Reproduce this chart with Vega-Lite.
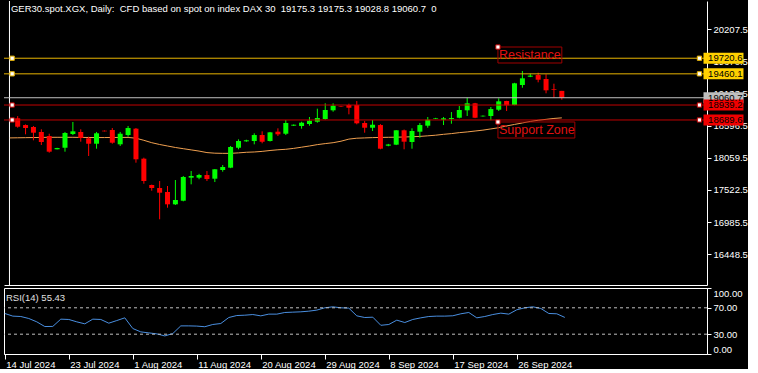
{
  "$schema": "https://vega.github.io/schema/vega-lite/v6.json",
  "background": "#000000",
  "padding": {"left": 2, "top": 0, "right": 0, "bottom": 0},
  "spacing": 1,
  "config": {
    "view": {"stroke": null},
    "axis": {"grid": false, "labelColor": "#FFFFFF", "domainColor": "#FFFFFF", "tickColor": "#FFFFFF", "labelFont": "Liberation Sans", "labelFontSize": 9.5, "title": null, "domainWidth": 1, "tickWidth": 1, "labelOverlap": false},
    "text": {"font": "Liberation Sans"}
  },
  "datasets": {
    "bars": [
      {"n":0,"date":"2024-07-14","ma":18390,"rsi":61.4},
      {"n":1,"date":"2024-07-15","open":18717,"high":18754,"low":18560,"close":18577,"ma":18392,"rsi":57.4},
      {"n":2,"date":"2024-07-16","open":18605,"high":18615,"low":18450,"close":18555,"ma":18394,"rsi":56.8},
      {"n":3,"date":"2024-07-17","open":18572,"high":18589,"low":18350,"close":18477,"ma":18396,"rsi":53.8},
      {"n":4,"date":"2024-07-18","open":18489,"high":18534,"low":18272,"close":18322,"ma":18398,"rsi":48.7},
      {"n":5,"date":"2024-07-19","open":18422,"high":18460,"low":18143,"close":18160,"ma":18400,"rsi":41.6},
      {"n":6,"date":"2024-07-21","open":18200,"high":18225,"low":18198,"close":18221,"ma":18400,"rsi":41.8},
      {"n":7,"date":"2024-07-22","open":18226,"high":18489,"low":18160,"close":18472,"ma":18400,"rsi":52.8},
      {"n":8,"date":"2024-07-23","open":18455,"high":18656,"low":18438,"close":18500,"ma":18400,"rsi":52.3},
      {"n":9,"date":"2024-07-24","open":18489,"high":18534,"low":18327,"close":18388,"ma":18398,"rsi":48.7},
      {"n":10,"date":"2024-07-25","open":18383,"high":18410,"low":18088,"close":18293,"ma":18397,"rsi":45.7},
      {"n":11,"date":"2024-07-26","open":18293,"high":18489,"low":18210,"close":18467,"ma":18396,"rsi":52.8},
      {"n":12,"date":"2024-07-28","open":18510,"high":18515,"low":18498,"close":18500,"ma":18396,"rsi":52.3},
      {"n":13,"date":"2024-07-29","open":18522,"high":18555,"low":18293,"close":18310,"ma":18397,"rsi":46.7},
      {"n":14,"date":"2024-07-30","open":18283,"high":18489,"low":18255,"close":18460,"ma":18398,"rsi":50.7},
      {"n":15,"date":"2024-07-31","open":18438,"high":18589,"low":18410,"close":18555,"ma":18398,"rsi":54.8},
      {"n":16,"date":"2024-08-01","open":18544,"high":18555,"low":17976,"close":18033,"ma":18385,"rsi":38.6},
      {"n":17,"date":"2024-08-02","open":18043,"high":18060,"low":17625,"close":17670,"ma":18350,"rsi":33.5},
      {"n":18,"date":"2024-08-04","open":17604,"high":17610,"low":17508,"close":17553,"ma":18310,"rsi":32.0},
      {"n":19,"date":"2024-08-05","open":17553,"high":17670,"low":17031,"close":17475,"ma":18280,"rsi":30.5},
      {"n":20,"date":"2024-08-06","open":17487,"high":17587,"low":17224,"close":17281,"ma":18255,"rsi":27.4},
      {"n":21,"date":"2024-08-07","open":17281,"high":17687,"low":17270,"close":17353,"ma":18230,"rsi":31.0},
      {"n":22,"date":"2024-08-08","open":17341,"high":17754,"low":17331,"close":17737,"ma":18210,"rsi":42.6},
      {"n":23,"date":"2024-08-09","open":17726,"high":17837,"low":17615,"close":17754,"ma":18190,"rsi":42.6},
      {"n":24,"date":"2024-08-11","open":17726,"high":17790,"low":17700,"close":17770,"ma":18170,"rsi":42.3},
      {"n":25,"date":"2024-08-12","open":17770,"high":17837,"low":17670,"close":17703,"ma":18145,"rsi":41.3},
      {"n":26,"date":"2024-08-13","open":17709,"high":17870,"low":17653,"close":17866,"ma":18135,"rsi":44.7},
      {"n":27,"date":"2024-08-14","open":17854,"high":17937,"low":17826,"close":17904,"ma":18132,"rsi":46.2},
      {"n":28,"date":"2024-08-15","open":17893,"high":18255,"low":17885,"close":18238,"ma":18132,"rsi":55.3},
      {"n":29,"date":"2024-08-16","open":18226,"high":18366,"low":18200,"close":18338,"ma":18140,"rsi":58.3},
      {"n":30,"date":"2024-08-18","open":18333,"high":18360,"low":18325,"close":18350,"ma":18150,"rsi":58.8},
      {"n":31,"date":"2024-08-19","open":18338,"high":18467,"low":18283,"close":18438,"ma":18155,"rsi":59.8},
      {"n":32,"date":"2024-08-20","open":18438,"high":18500,"low":18300,"close":18326,"ma":18165,"rsi":57.8},
      {"n":33,"date":"2024-08-21","open":18338,"high":18490,"low":18330,"close":18483,"ma":18180,"rsi":60.4},
      {"n":34,"date":"2024-08-22","open":18494,"high":18550,"low":18422,"close":18450,"ma":18192,"rsi":60.4},
      {"n":35,"date":"2024-08-23","open":18460,"high":18689,"low":18438,"close":18639,"ma":18200,"rsi":62.9},
      {"n":36,"date":"2024-08-25","open":18595,"high":18615,"low":18589,"close":18610,"ma":18215,"rsi":63.4},
      {"n":37,"date":"2024-08-26","open":18589,"high":18660,"low":18544,"close":18644,"ma":18235,"rsi":63.9},
      {"n":38,"date":"2024-08-27","open":18622,"high":18739,"low":18594,"close":18677,"ma":18255,"rsi":64.9},
      {"n":39,"date":"2024-08-28","open":18660,"high":18878,"low":18644,"close":18722,"ma":18278,"rsi":66.5},
      {"n":40,"date":"2024-08-29","open":18706,"high":18968,"low":18694,"close":18856,"ma":18295,"rsi":70.0},
      {"n":41,"date":"2024-08-30","open":18851,"high":18968,"low":18828,"close":18928,"ma":18310,"rsi":71.5},
      {"n":42,"date":"2024-09-01","open":18920,"high":18925,"low":18908,"close":18912,"ma":18335,"rsi":70.0},
      {"n":43,"date":"2024-09-02","open":18940,"high":18961,"low":18784,"close":18894,"ma":18370,"rsi":69.5},
      {"n":44,"date":"2024-09-03","open":18940,"high":19006,"low":18617,"close":18634,"ma":18385,"rsi":57.8},
      {"n":45,"date":"2024-09-04","open":18639,"high":18672,"low":18477,"close":18560,"ma":18390,"rsi":55.3},
      {"n":46,"date":"2024-09-05","open":18560,"high":18689,"low":18505,"close":18610,"ma":18395,"rsi":55.8},
      {"n":47,"date":"2024-09-06","open":18605,"high":18620,"low":18200,"close":18210,"ma":18398,"rsi":43.5},
      {"n":48,"date":"2024-09-08","open":18260,"high":18290,"low":18250,"close":18280,"ma":18400,"rsi":44.7},
      {"n":49,"date":"2024-09-09","open":18277,"high":18520,"low":18270,"close":18517,"ma":18402,"rsi":51.3},
      {"n":50,"date":"2024-09-10","open":18517,"high":18530,"low":18200,"close":18327,"ma":18405,"rsi":47.7},
      {"n":51,"date":"2024-09-11","open":18322,"high":18550,"low":18210,"close":18505,"ma":18410,"rsi":52.3},
      {"n":52,"date":"2024-09-12","open":18494,"high":18639,"low":18393,"close":18605,"ma":18415,"rsi":54.8},
      {"n":53,"date":"2024-09-13","open":18594,"high":18739,"low":18560,"close":18694,"ma":18425,"rsi":56.8},
      {"n":54,"date":"2024-09-15","open":18710,"high":18725,"low":18705,"close":18720,"ma":18435,"rsi":57.4},
      {"n":55,"date":"2024-09-16","open":18694,"high":18739,"low":18605,"close":18717,"ma":18450,"rsi":57.4},
      {"n":56,"date":"2024-09-17","open":18705,"high":18822,"low":18627,"close":18722,"ma":18462,"rsi":57.9},
      {"n":57,"date":"2024-09-18","open":18727,"high":18923,"low":18717,"close":18856,"ma":18478,"rsi":60.9},
      {"n":58,"date":"2024-09-19","open":18851,"high":19061,"low":18756,"close":18968,"ma":18490,"rsi":62.9},
      {"n":59,"date":"2024-09-20","open":18968,"high":18975,"low":18720,"close":18727,"ma":18505,"rsi":54.8},
      {"n":60,"date":"2024-09-22","open":18750,"high":18765,"low":18745,"close":18760,"ma":18520,"rsi":56.8},
      {"n":61,"date":"2024-09-23","open":18756,"high":18906,"low":18684,"close":18872,"ma":18540,"rsi":59.8},
      {"n":62,"date":"2024-09-24","open":18861,"high":19051,"low":18839,"close":19001,"ma":18560,"rsi":61.9},
      {"n":63,"date":"2024-09-25","open":19006,"high":19010,"low":18839,"close":18934,"ma":18590,"rsi":60.4},
      {"n":64,"date":"2024-09-26","open":18940,"high":19310,"low":18935,"close":19302,"ma":18615,"rsi":67.0},
      {"n":65,"date":"2024-09-27","open":19274,"high":19507,"low":19228,"close":19385,"ma":18640,"rsi":70.0},
      {"n":66,"date":"2024-09-29","open":19412,"high":19462,"low":19405,"close":19430,"ma":18665,"rsi":71.5},
      {"n":67,"date":"2024-09-30","open":19440,"high":19479,"low":19318,"close":19362,"ma":18685,"rsi":69.0},
      {"n":68,"date":"2024-10-01","open":19374,"high":19452,"low":19135,"close":19185,"ma":18700,"rsi":61.4},
      {"n":69,"date":"2024-10-02","open":19202,"high":19295,"low":19061,"close":19190,"ma":18715,"rsi":60.9},
      {"n":70,"date":"2024-10-03","open":19175.3,"high":19175.3,"low":19028.8,"close":19060.7,"ma":18725,"rsi":55.43}
    ],
    "levels": [
      {"price":19720.6,"kind":"resistance"},
      {"price":19460.1,"kind":"resistance"},
      {"price":19060.7,"kind":"last"},
      {"price":18939.2,"kind":"support"},
      {"price":18689.6,"kind":"support"}
    ],
    "notes": [
      {"label":"Resistance","n0":61.9,"n1":70.0,"p0":19908,"p1":19641},
      {"label":"Support Zone","n0":61.9,"n1":71.65,"p0":18656,"p1":18388}
    ]
  },
  "vconcat": [
    {
      "width": 703,
      "height": 284,
      "layer": [
        {
          "data": {"values": [{"edge":"left"}]},
          "mark": {"type": "rule", "color": "#FFFFFF", "strokeWidth": 1},
          "encoding": {"x": {"datum": -0.04, "type": "quantitative"}}
        },
        {
          "data": {"name": "bars"},
          "mark": {"type": "line", "color": "#F0A050", "strokeWidth": 1},
          "encoding": {
            "x": {"field": "n", "type": "quantitative", "scale": {"domain": [-0.1, 87.775], "nice": false, "zero": false},
                  "axis": {"orient": "bottom", "domain": true, "ticks": false, "labels": false, "title": null}},
            "y": {"field": "ma", "type": "quantitative", "scale": {"domain": [15933.6, 20676.4], "nice": false, "zero": false},
                  "axis": {"orient": "right", "values": [16448.5, 16985.5, 17522.5, 18059.5, 18596.5, 19133.5, 19670.5, 20207.5], "tickCount": 20, "format": ".1f", "tickSize": 4, "labelPadding": 2, "labelOverlap": false, "domain": true, "title": null}}
          }
        },
        {
          "data": {"name": "bars"},
          "transform": [{"filter": "isValid(datum.open)"}],
          "mark": {"type": "rule", "strokeWidth": 1},
          "encoding": {
            "x": {"field": "n", "type": "quantitative"},
            "y": {"field": "low", "type": "quantitative"},
            "y2": {"field": "high"},
            "color": {"condition": {"test": "datum.close >= datum.open", "value": "#00FF00"}, "value": "#FF0000"}
          }
        },
        {
          "data": {"name": "bars"},
          "transform": [{"filter": "isValid(datum.open)"}],
          "mark": {"type": "bar", "width": 5, "orient": "vertical"},
          "encoding": {
            "x": {"field": "n", "type": "quantitative"},
            "y": {"field": "open", "type": "quantitative"},
            "y2": {"field": "close"},
            "color": {"condition": {"test": "datum.close >= datum.open", "value": "#00FF00"}, "value": "#FF0000"}
          }
        },
        {
          "data": {"name": "levels"},
          "mark": {"type": "rule", "strokeWidth": 1},
          "encoding": {
            "y": {"field": "price", "type": "quantitative"},
            "stroke": {"field": "kind", "type": "nominal", "scale": {"domain": ["resistance", "last", "support"], "range": ["#E8B400", "#C0C0C0", "#C00000"]}, "legend": null}
          }
        },
        {
          "data": {"name": "notes"},
          "mark": {"type": "rect", "fillOpacity": 0, "stroke": "#A00000", "strokeWidth": 1},
          "encoding": {
            "x": {"field": "n0", "type": "quantitative"},
            "x2": {"field": "n1"},
            "y": {"field": "p0", "type": "quantitative"},
            "y2": {"field": "p1"}
          }
        },
        {
          "data": {"name": "notes"},
          "mark": {"type": "text", "align": "left", "baseline": "top", "dx": 1, "dy": 2, "fontSize": 12.5, "color": "#E01010"},
          "encoding": {
            "x": {"field": "n0", "type": "quantitative"},
            "y": {"field": "p0", "type": "quantitative"},
            "text": {"field": "label"}
          }
        },
        {
          "data": {"name": "levels"},
          "transform": [{"filter": "datum.kind != 'last'"}],
          "mark": {"type": "point", "shape": "square", "size": 18, "filled": true, "fill": "#FFFFFF", "strokeWidth": 1, "opacity": 1},
          "encoding": {
            "x": {"datum": 0.3, "type": "quantitative"},
            "y": {"field": "price", "type": "quantitative"},
            "stroke": {"field": "kind", "type": "nominal", "legend": null}
          }
        },
        {
          "data": {"name": "levels"},
          "transform": [{"filter": "datum.kind != 'last'"}],
          "mark": {"type": "point", "shape": "square", "size": 18, "filled": true, "fill": "#FFFFFF", "strokeWidth": 1, "opacity": 1},
          "encoding": {
            "x": {"datum": 87.45, "type": "quantitative"},
            "y": {"field": "price", "type": "quantitative"},
            "stroke": {"field": "kind", "type": "nominal", "legend": null}
          }
        },
        {
          "data": {"name": "notes"},
          "mark": {"type": "point", "shape": "square", "size": 18, "filled": true, "fill": "#FFFFFF", "stroke": "#C00000", "strokeWidth": 1, "opacity": 1},
          "encoding": {
            "x": {"field": "n0", "type": "quantitative"},
            "y": {"field": "p0", "type": "quantitative"}
          }
        },
        {
          "data": {"name": "levels"},
          "mark": {"type": "tick", "orient": "horizontal", "size": 40, "thickness": 11, "opacity": 1},
          "encoding": {
            "x": {"datum": 90.5, "type": "quantitative"},
            "y": {"field": "price", "type": "quantitative"},
            "fill": {"field": "kind", "type": "nominal", "scale": {"domain": ["resistance", "last", "support"], "range": ["#FFD000", "#BEBEBE", "#F00000"]}, "legend": null}
          }
        },
        {
          "data": {"name": "levels"},
          "mark": {"type": "text", "align": "left", "baseline": "middle", "fontSize": 9.5, "color": "#000000"},
          "encoding": {
            "x": {"datum": 88.55, "type": "quantitative"},
            "y": {"field": "price", "type": "quantitative"},
            "text": {"field": "price", "format": ".1f"}
          }
        },
        {
          "data": {"values": [{"caption": "GER30.spot.XGX, Daily:\u00a0 CFD based on spot on index DAX 30\u00a0 19175.3 19175.3 19028.8 19060.7\u00a0 0"}]},
          "mark": {"type": "text", "align": "left", "baseline": "middle", "fontSize": 9.5, "color": "#FFFFFF"},
          "encoding": {
            "x": {"datum": 0.15, "type": "quantitative"},
            "y": {"datum": 20543, "type": "quantitative"},
            "text": {"field": "caption"}
          }
        }
      ]
    },
    {
      "width": 703,
      "height": 66,
      "view": {"stroke": "#FFFFFF", "strokeWidth": 1},
      "layer": [
        {
          "data": {"name": "bars"},
          "mark": {"type": "line", "color": "#4A8FE0", "strokeWidth": 1},
          "encoding": {
            "x": {"field": "n", "type": "quantitative", "scale": {"domain": [-0.1, 87.775], "nice": false, "zero": false},
                  "axis": {"orient": "bottom", "values": [0, 8, 16, 24, 32, 40, 48, 56, 64], "tickCount": 20,
                           "labelExpr": "['14 Jul 2024','23 Jul 2024','1 Aug 2024','11 Aug 2024','20 Aug 2024','29 Aug 2024','8 Sep 2024','17 Sep 2024','26 Sep 2024'][round(datum.value/8)]",
                           "labelAlign": "left", "labelBaseline": "top", "labelPadding": 0, "labelOffset": 1, "tickSize": 5, "labelFlush": false, "labelOverlap": false, "domain": true, "title": null}},
            "y": {"field": "rsi", "type": "quantitative", "scale": {"domain": [0, 100], "nice": false, "zero": false},
                  "axis": {"orient": "right", "values": [0, 30, 70, 100], "tickCount": 10, "format": ".2f", "labelFlush": false, "labelOverlap": false,
                           "labelBaseline": {"condition": [{"test": "datum.value == 100", "value": "top"}, {"test": "datum.value == 0", "value": "bottom"}], "value": "middle"},
                           "tickSize": 4, "labelPadding": 2, "domain": true, "title": null}}
          }
        },
        {
          "data": {"values": [{"level": 30}, {"level": 70}]},
          "mark": {"type": "rule", "color": "#C0C0C0", "strokeDash": [3, 3], "strokeWidth": 1},
          "encoding": {"y": {"field": "level", "type": "quantitative"}}
        },
        {
          "data": {"values": [{"caption": "RSI(14) 55.43"}]},
          "mark": {"type": "text", "align": "left", "baseline": "middle", "fontSize": 9.5, "color": "#E0E0E0"},
          "encoding": {
            "x": {"datum": 0.15, "type": "quantitative"},
            "y": {"datum": 84.8, "type": "quantitative"},
            "text": {"field": "caption"}
          }
        }
      ]
    }
  ]
}
